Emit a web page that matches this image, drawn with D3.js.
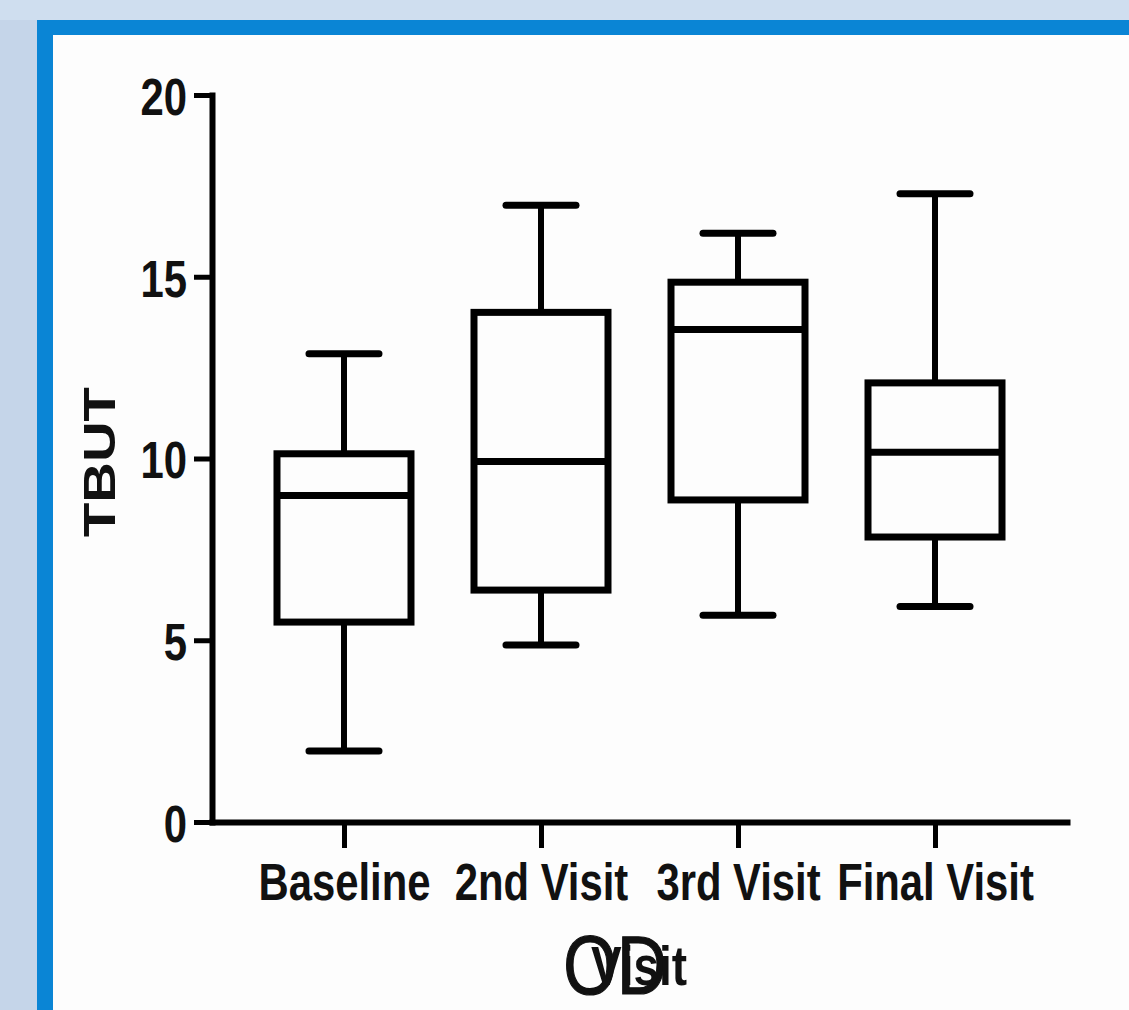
<!DOCTYPE html>
<html>
<head>
<meta charset="utf-8">
<script src="https://cdn.jsdelivr.net/npm/d3@7"></script>
<style>
  body { margin: 0; background: #c9d9ec; }
  svg { display: block; }
  .narrow { font-family: "Liberation Sans", Arial, sans-serif; }
</style>
</head>
<body>
<div id="chart-container"><svg></svg></div>
<script>
// Visits on the x axis
const categories = ['Baseline', '2nd Visit', '3rd Visit', 'Final Visit'];

// Box plot stats (TBUT)
const mins    = [1.95, 4.87, 5.69, 5.93];
const q1s     = [5.5, 6.38, 8.86, 7.84];
const medians = [8.98, 9.92, 13.55, 10.17];
const q3s     = [10.13, 14.02, 14.85, 12.08];
const maxs    = [12.88, 16.97, 16.2, 17.28];

const yTicks = [0, 5, 10, 15, 20];

const boxes = categories.map((c, i) => ({
    name: c, min: mins[i], q1: q1s[i], median: medians[i], q3: q3s[i], max: maxs[i]
}));

const svgWidth = 1129;
const svgHeight = 1010;

const svg = d3.select("#chart-container svg")
    .attr("width", svgWidth)
    .attr("height", svgHeight);

// Frame: light blue backdrop, blue border, white panel
svg.append("rect")
    .attr("width", svgWidth).attr("height", svgHeight)
    .attr("fill", "#c5d5e9");
svg.append("rect")
    .attr("width", svgWidth).attr("height", 20)
    .attr("fill", "#cfdeef");
svg.append("rect")
    .attr("x", 37).attr("y", 20)
    .attr("width", svgWidth - 37).attr("height", svgHeight - 20)
    .attr("fill", "#0a85d5");
svg.append("rect")
    .attr("x", 53).attr("y", 35)
    .attr("width", svgWidth - 53).attr("height", svgHeight - 35)
    .attr("fill", "#fdfdfd");

// Scales
const xScale = d3.scalePoint()
    .domain(categories)
    .range([212, 1067])
    .padding(0.67);

const yScale = d3.scaleLinear()
    .domain([0, 20])
    .range([822, 95]);

const boxWidth = 134;
const capWidth = 70;

// Boxes
const g = svg.selectAll("g.box")
    .data(boxes)
    .enter()
    .append("g")
    .attr("class", "box")
    .attr("stroke", "#000")
    .attr("fill", "none");

// whiskers
g.append("line")
    .attr("x1", d => xScale(d.name)).attr("x2", d => xScale(d.name))
    .attr("y1", d => yScale(d.max)).attr("y2", d => yScale(d.q3))
    .attr("stroke-width", 6);
g.append("line")
    .attr("x1", d => xScale(d.name)).attr("x2", d => xScale(d.name))
    .attr("y1", d => yScale(d.q1)).attr("y2", d => yScale(d.min))
    .attr("stroke-width", 6);

// caps
g.append("line")
    .attr("x1", d => xScale(d.name) - capWidth / 2).attr("x2", d => xScale(d.name) + capWidth / 2)
    .attr("y1", d => yScale(d.max)).attr("y2", d => yScale(d.max))
    .attr("stroke-width", 7).attr("stroke-linecap", "round");
g.append("line")
    .attr("x1", d => xScale(d.name) - capWidth / 2).attr("x2", d => xScale(d.name) + capWidth / 2)
    .attr("y1", d => yScale(d.min)).attr("y2", d => yScale(d.min))
    .attr("stroke-width", 7).attr("stroke-linecap", "round");

// box
g.append("rect")
    .attr("x", d => xScale(d.name) - boxWidth / 2)
    .attr("y", d => yScale(d.q3))
    .attr("width", boxWidth)
    .attr("height", d => yScale(d.q1) - yScale(d.q3))
    .attr("stroke-width", 7);

// median
g.append("line")
    .attr("x1", d => xScale(d.name) - boxWidth / 2).attr("x2", d => xScale(d.name) + boxWidth / 2)
    .attr("y1", d => yScale(d.median)).attr("y2", d => yScale(d.median))
    .attr("stroke-width", 7);

// Axes
const yAxis = svg.append("g")
    .attr("transform", "translate(212,0)")
    .attr("class", "narrow")
    .call(d3.axisLeft(yScale).tickValues(yTicks).tickSize(18).tickSizeOuter(0).tickPadding(7));

const xAxis = svg.append("g")
    .attr("transform", "translate(0,822)")
    .attr("class", "narrow")
    .call(d3.axisBottom(xScale).tickSize(26).tickSizeOuter(0).tickPadding(16));

[yAxis, xAxis].forEach(ax => {
    ax.select(".domain").attr("stroke", "#000").attr("stroke-width", 6).attr("stroke-linecap", "square");
    ax.selectAll(".tick line").attr("stroke", "#000").attr("stroke-width", 5);
    ax.selectAll(".tick text")
        .attr("fill", "#111")
        .attr("font-size", 51)
        .attr("font-weight", "bold")
        .attr("font-family", null);
});
yAxis.selectAll(".tick text").attr("dy", "0.38em");

// Axis titles
svg.append("text")
    .attr("transform", "translate(115,462) rotate(-90)")
    .attr("text-anchor", "middle")
    .attr("font-family", "Liberation Sans, Arial, sans-serif")
    .attr("font-weight", "bold")
    .attr("font-size", 45)
    .attr("textLength", 150)
    .attr("lengthAdjust", "spacingAndGlyphs")
    .attr("fill", "#111")
    .text("TBUT");

// two titles printed on top of each other
svg.append("text")
    .attr("class", "narrow")
    .attr("x", 615).attr("y", 994)
    .attr("text-anchor", "middle")
    .attr("font-size", 84)
    .attr("fill", "#111")
    .attr("stroke", "#111")
    .attr("stroke-width", 1.2)
    .text("OD");

svg.append("text")
    .attr("class", "narrow")
    .attr("x", 639).attr("y", 985)
    .attr("text-anchor", "middle")
    .attr("font-size", 56)
    .attr("font-weight", "bold")
    .attr("fill", "#111")
    .text("Visit");

// no narrow font installed: squeeze the text like Arial Narrow
svg.selectAll("text.narrow, .narrow text").each(function () {
    const w = this.getComputedTextLength();
    d3.select(this)
        .attr("textLength", w * 0.82)
        .attr("lengthAdjust", "spacingAndGlyphs");
});
</script>
</body>
</html>
